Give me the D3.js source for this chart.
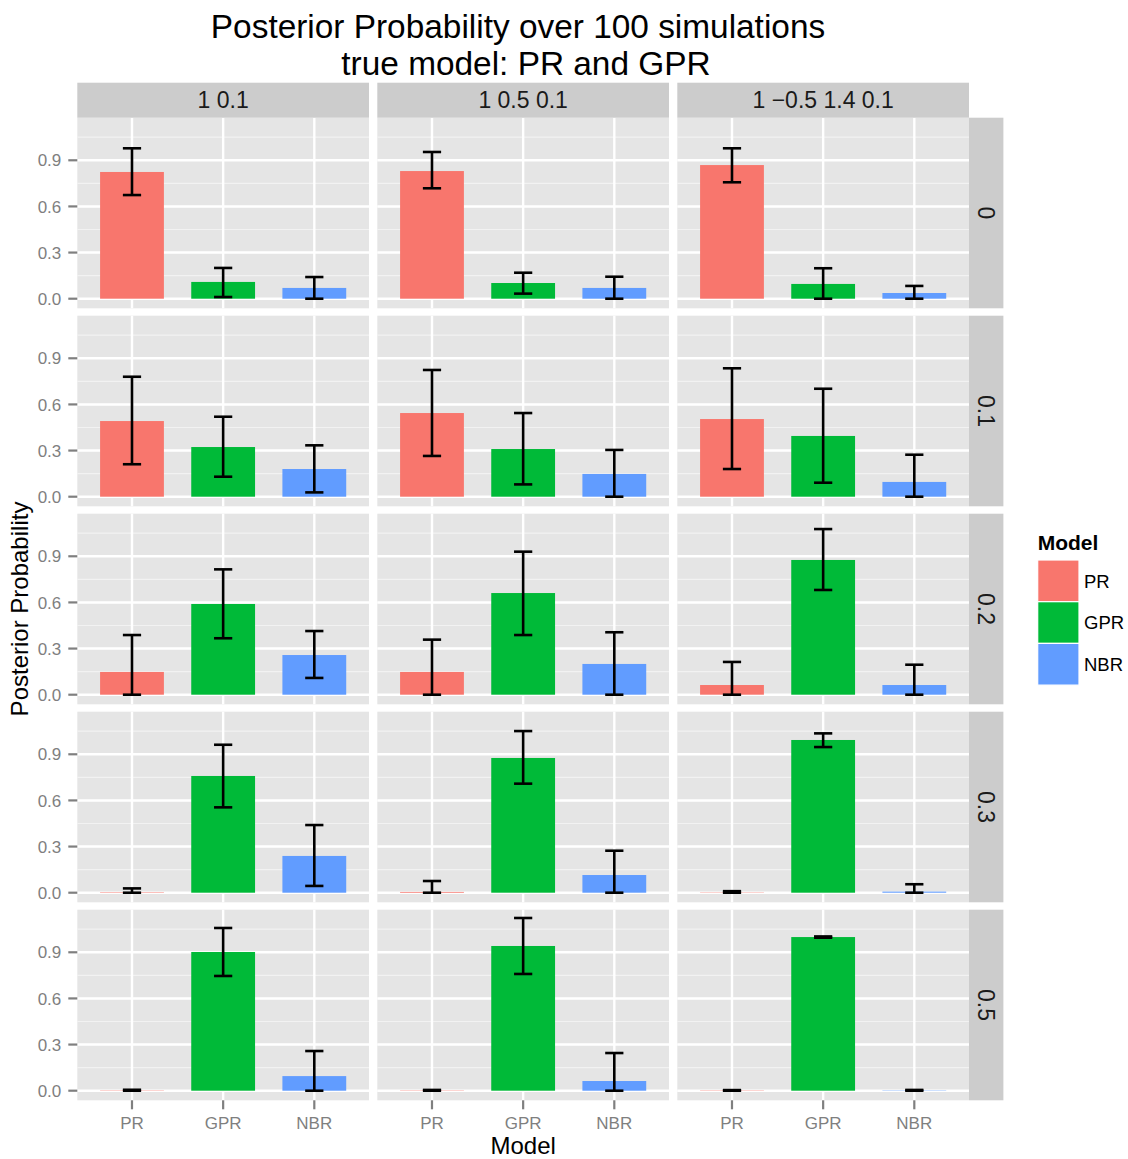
<!DOCTYPE html>
<html>
<head>
<meta charset="utf-8">
<script src="https://cdn.jsdelivr.net/npm/d3@7"></script>
<style>
  html, body { margin: 0; padding: 0; background: #ffffff; }
  svg { display: block; font-family: "Liberation Sans", Arial, Helvetica, sans-serif; }
</style>
</head>
<body>
<svg id="chart" width="1128" height="1159"></svg>
<script>
// Facets and categories
const models = ["PR", "GPR", "NBR"];
const colFacets = ["1 0.1", "1 0.5 0.1", "1 \u22120.5 1.4 0.1"];
const rowFacets = ["0", "0.1", "0.2", "0.3", "0.5"];
const yTicks = [0, 0.3, 0.6, 0.9];
const yMinor = [0.15, 0.45, 0.75, 1.05];
const colours = ["#F8766D", "#00BA38", "#619CFF"];

// Mean posterior probability, one entry per panel (row facet major, column facet minor)
const prMean  = [0.824, 0.830, 0.869,  0.492, 0.544, 0.505,  0.148, 0.148, 0.063,  0.003, 0.005, 0.002,  0.002, 0.002, 0.002];
const gprMean = [0.109, 0.102, 0.096,  0.323, 0.310, 0.395,  0.590, 0.661, 0.876,  0.759, 0.876, 0.993,  0.902, 0.941, 0.999];
const nbrMean = [0.070, 0.070, 0.037,  0.180, 0.148, 0.096,  0.258, 0.200, 0.063,  0.239, 0.115, 0.007,  0.095, 0.063, 0.002];

// Error bar limits
const prLow   = [0.674, 0.718, 0.757,  0.211, 0.265, 0.180,  0.000, 0.000, 0.000,  0.000, 0.000, 0.000,  0.000, 0.000, 0.000];
const prHigh  = [0.978, 0.954, 0.978,  0.780, 0.824, 0.835,  0.388, 0.358, 0.213,  0.028, 0.076, 0.010,  0.006, 0.005, 0.004];
const gprLow  = [0.011, 0.033, 0.000,  0.130, 0.080, 0.091,  0.367, 0.388, 0.681,  0.555, 0.709, 0.947,  0.746, 0.759, 0.995];
const gprHigh = [0.200, 0.169, 0.198,  0.520, 0.544, 0.702,  0.815, 0.930, 1.077,  0.962, 1.051, 1.036,  1.058, 1.123, 1.003];
const nbrLow  = [0.000, 0.000, 0.000,  0.028, 0.000, 0.000,  0.109, 0.000, 0.000,  0.044, 0.000, 0.000,  0.000, 0.000, 0.000];
const nbrHigh = [0.141, 0.143, 0.083,  0.334, 0.304, 0.273,  0.414, 0.406, 0.195,  0.440, 0.273, 0.055,  0.258, 0.245, 0.005];

const means = [prMean, gprMean, nbrMean];
const lows = [prLow, gprLow, nbrLow];
const highs = [prHigh, gprHigh, nbrHigh];

// Layout
const panelLeft = 77.3, panelTop = 117.7;
const panelW = 291.7, panelH = 190.6;
const colStep = 300, rowStep = 198;
const stripH = 35, stripW = 34.4;

const svg = d3.select("#chart");
svg.append("rect").attr("width", 1128).attr("height", 1159).attr("fill", "#ffffff");

const x = d3.scalePoint().domain(models).range([0, panelW]).padding(0.6);
const step = x.step();
const y = d3.scaleLinear().domain([-0.0624, 1.1769]).range([panelH, 0]);

const grey50 = "#7F7F7F";

rowFacets.forEach((rowLab, r) => {
  colFacets.forEach((colLab, c) => {
    const idx = r * colFacets.length + c;
    const g = svg.append("g")
      .attr("transform", `translate(${panelLeft + c * colStep},${panelTop + r * rowStep})`);

    g.append("rect").attr("width", panelW).attr("height", panelH).attr("fill", "#E5E5E5");

    g.selectAll("line.minor").data(yMinor).join("line")
      .attr("x1", 0).attr("x2", panelW)
      .attr("y1", d => y(d)).attr("y2", d => y(d))
      .attr("stroke", "#F2F2F2").attr("stroke-width", 1.2);

    g.selectAll("line.majorY").data(yTicks).join("line")
      .attr("x1", 0).attr("x2", panelW)
      .attr("y1", d => y(d)).attr("y2", d => y(d))
      .attr("stroke", "#ffffff").attr("stroke-width", 2.4);

    g.selectAll("line.majorX").data(models).join("line")
      .attr("x1", d => x(d)).attr("x2", d => x(d))
      .attr("y1", 0).attr("y2", panelH)
      .attr("stroke", "#ffffff").attr("stroke-width", 2.4);

    const rows = models.map((m, k) => ({
      model: m, k,
      mean: means[k][idx], lo: lows[k][idx], hi: highs[k][idx]
    }));

    g.selectAll("rect.bar").data(rows).join("rect")
      .attr("x", d => x(d.model) - 0.35 * step)
      .attr("width", 0.7 * step)
      .attr("y", d => y(d.mean))
      .attr("height", d => Math.max(0, y(0) - y(d.mean)))
      .attr("fill", d => colours[d.k]);

    const eb = g.selectAll("g.eb").data(rows).join("g")
      .attr("stroke", "#000").attr("stroke-width", 2.6).attr("fill", "none");
    eb.append("line")
      .attr("x1", d => x(d.model)).attr("x2", d => x(d.model))
      .attr("y1", d => y(d.lo)).attr("y2", d => y(d.hi));
    eb.append("line")
      .attr("x1", d => x(d.model) - 0.1 * step).attr("x2", d => x(d.model) + 0.1 * step)
      .attr("y1", d => y(d.hi)).attr("y2", d => y(d.hi));
    eb.append("line")
      .attr("x1", d => x(d.model) - 0.1 * step).attr("x2", d => x(d.model) + 0.1 * step)
      .attr("y1", d => y(d.lo)).attr("y2", d => y(d.lo));

    // y axis on first column
    if (c === 0) {
      const ya = g.append("g");
      ya.selectAll("line").data(yTicks).join("line")
        .attr("x1", -9).attr("x2", 0)
        .attr("y1", d => y(d)).attr("y2", d => y(d))
        .attr("stroke", grey50).attr("stroke-width", 2.2);
      ya.selectAll("text").data(yTicks).join("text")
        .attr("x", -16).attr("y", d => y(d))
        .attr("dy", "0.36em")
        .attr("text-anchor", "end")
        .attr("font-size", 17).attr("fill", grey50)
        .text(d => d3.format(".1f")(d));
    }

    // x axis on last row
    if (r === rowFacets.length - 1) {
      const xa = g.append("g");
      xa.selectAll("line").data(models).join("line")
        .attr("x1", d => x(d)).attr("x2", d => x(d))
        .attr("y1", panelH).attr("y2", panelH + 9)
        .attr("stroke", grey50).attr("stroke-width", 2.2);
      xa.selectAll("text").data(models).join("text")
        .attr("x", d => x(d)).attr("y", panelH + 29)
        .attr("text-anchor", "middle")
        .attr("font-size", 17).attr("fill", grey50)
        .text(d => d);
    }
  });
});

// Column strips
colFacets.forEach((lab, c) => {
  const gx = panelLeft + c * colStep;
  svg.append("rect")
    .attr("x", gx).attr("y", panelTop - stripH)
    .attr("width", panelW).attr("height", stripH)
    .attr("fill", "#CCCCCC");
  svg.append("text")
    .attr("x", gx + panelW / 2).attr("y", panelTop - stripH / 2)
    .attr("dy", "0.36em")
    .attr("text-anchor", "middle")
    .attr("font-size", 23).attr("fill", "#1a1a1a")
    .text(lab);
});

// Row strips
const stripX = panelLeft + 2 * colStep + panelW;
rowFacets.forEach((lab, r) => {
  const gy = panelTop + r * rowStep;
  svg.append("rect")
    .attr("x", stripX).attr("y", gy)
    .attr("width", stripW).attr("height", panelH)
    .attr("fill", "#CCCCCC");
  svg.append("text")
    .attr("transform", `translate(${stripX + stripW / 2},${gy + panelH / 2}) rotate(90)`)
    .attr("dy", "0.36em")
    .attr("text-anchor", "middle")
    .attr("font-size", 23).attr("fill", "#1a1a1a")
    .text(lab);
});

// Axis titles
const plotMidX = panelLeft + (2 * colStep + panelW) / 2;
const plotMidY = panelTop + (4 * rowStep + panelH) / 2;
svg.append("text")
  .attr("x", plotMidX).attr("y", 1154)
  .attr("text-anchor", "middle")
  .attr("font-size", 24).attr("fill", "#000")
  .text("Model");
svg.append("text")
  .attr("transform", `translate(28,${plotMidY}) rotate(-90)`)
  .attr("text-anchor", "middle")
  .attr("font-size", 24).attr("fill", "#000")
  .text("Posterior Probability");

// Title (two centred lines)
const titleLines = ["Posterior Probability over 100 simulations", "true model: PR and GPR"];
const titleX = [518, 526];
svg.selectAll("text.title").data(titleLines).join("text")
  .attr("x", (d, i) => titleX[i]).attr("y", (d, i) => 38 + i * 37)
  .attr("text-anchor", "middle")
  .attr("font-size", 33.4).attr("fill", "#000")
  .text(d => d);

// Legend
const legX = 1037.7, legY = 560, keyW = 41.3, keyH = 41.7;
svg.append("text")
  .attr("x", legX).attr("y", 550)
  .attr("font-size", 21).attr("font-weight", "bold").attr("fill", "#000")
  .text("Model");
const leg = svg.selectAll("g.leg").data(models).join("g")
  .attr("transform", (d, i) => `translate(${legX},${legY + i * keyH})`);
leg.append("rect")
  .attr("width", keyW).attr("height", keyH)
  .attr("fill", (d, i) => colours[i])
  .attr("stroke", "#ffffff").attr("stroke-width", 1.2);
leg.append("text")
  .attr("x", keyW + 5).attr("y", keyH / 2)
  .attr("dy", "0.36em")
  .attr("font-size", 18.5).attr("fill", "#000")
  .text(d => d);
</script>
</body>
</html>
